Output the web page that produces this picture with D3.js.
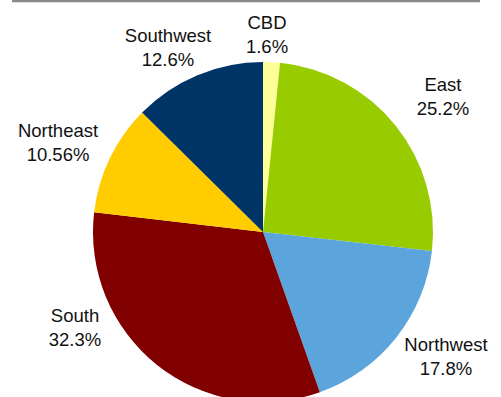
<!DOCTYPE html>
<html>
<head>
<meta charset="utf-8">
<script src="https://cdn.jsdelivr.net/npm/d3@7"></script>
<style>
  body { margin: 0; background: #fff; }
  text { font-family: "Liberation Sans", Arial, sans-serif; font-size: 18.5px; fill: #111; }
</style>
</head>
<body>
<div class="main"></div>
<script>
////Data
const regions = ['CBD', 'East', 'Northwest', 'South', 'Northeast', 'Southwest'];
const shares = [1.6, 25.2, 17.8, 32.3, 10.56, 12.6];
const shareLabels = ['1.6%', '25.2%', '17.8%', '32.3%', '10.56%', '12.6%'];
const colors = ['#ffff99', '#99cc00', '#5ba4dc', '#800000', '#ffcc00', '#003366'];
// label anchor (centre of first line baseline)
const labelPos = [[267, 29], [443, 91], [446, 351], [75, 322], [58, 137], [168, 42]];

////Global Variables
const width = 501;
const height = 397;
const cx = 263;
const cy = 232;
const radius = 170;

const svg = d3.select('.main').append('svg')
  .attr('width', width)
  .attr('height', height);

// grey rule at top
svg.append('line')
  .attr('x1', 12).attr('x2', 480)
  .attr('y1', 1).attr('y2', 1)
  .attr('stroke', '#888')
  .attr('stroke-width', 2.5);

const data = regions.map((r, i) => ({ region: r, value: shares[i], label: shareLabels[i], color: colors[i], pos: labelPos[i] }));

const pie = d3.pie().sort(null).value(d => d.value);
const arc = d3.arc().innerRadius(0).outerRadius(radius);

svg.append('g')
  .attr('transform', `translate(${cx}, ${cy})`)
  .selectAll('path')
  .data(pie(data))
  .enter()
  .append('path')
  .attr('d', arc)
  .attr('fill', d => d.data.color);

////Labels
const labels = svg.selectAll('g.label')
  .data(data)
  .enter()
  .append('g')
  .attr('class', 'label')
  .attr('transform', d => `translate(${d.pos[0]}, ${d.pos[1]})`);

// Northwest label sits on a white box over the pie
labels.filter(d => d.region === 'Northwest')
  .append('rect')
  .attr('x', -43).attr('y', -22)
  .attr('width', 100).attr('height', 70)
  .attr('fill', '#fff');

labels.append('text')
  .attr('text-anchor', 'middle')
  .text(d => d.region);

labels.append('text')
  .attr('text-anchor', 'middle')
  .attr('y', 23.5)
  .text(d => d.label);
</script>
</body>
</html>
